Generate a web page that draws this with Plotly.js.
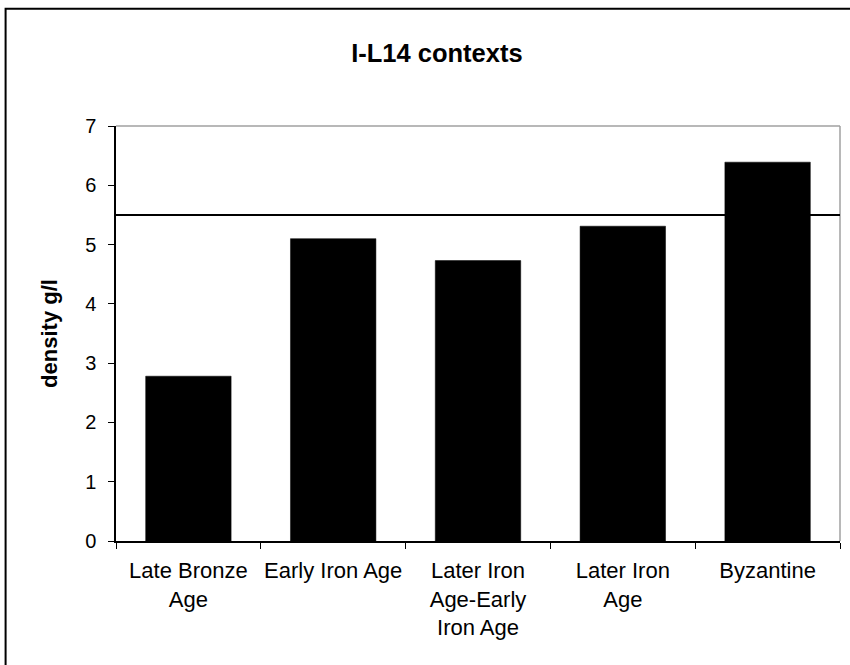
<!DOCTYPE html>
<html>
<head>
<meta charset="utf-8">
<script src="https://cdn.plot.ly/plotly-3.0.1.min.js"></script>
<style>
html,body{margin:0;padding:0;background:#fff;}
#chart{width:850px;height:665px;}
</style>
</head>
<body>
<div id="chart"></div>
<script>
const categories = ["Late Bronze<br>Age", "Early Iron Age", "Later Iron<br>Age-Early<br>Iron Age", "Later Iron<br>Age", "Byzantine"];
const densities = [2.78, 5.10, 4.73, 5.31, 6.39];
const referenceLine = [5.5];
const yTicks = [0, 1, 2, 3, 4, 5, 6, 7];

const trace = {
  type: 'bar',
  x: categories,
  y: densities,
  marker: {color: '#000000', line: {color: '#000000', width: 0.5}},
  hoverinfo: 'x+y'
};

const layout = {
  width: 850,
  height: 665,
  margin: {l: 116, r: 10, t: 126, b: 124, pad: 0},
  paper_bgcolor: '#ffffff',
  plot_bgcolor: '#ffffff',
  showlegend: false,
  bargap: 0.41,
  font: {family: 'Liberation Sans, Arial, sans-serif', color: '#000000'},
  title: {
    text: '<b>I-L14 contexts</b>',
    x: 0.514, xanchor: 'center',
    y: 0.92, yanchor: 'middle',
    font: {size: 25.5, family: 'Liberation Sans, Arial, sans-serif', color: '#000'}
  },
  xaxis: {
    type: 'category',
    tickson: 'boundaries',
    ticks: 'outside',
    ticklen: 6,
    tickwidth: 1,
    tickcolor: '#000',
    showline: true,
    linecolor: '#000',
    linewidth: 1.5,
    showgrid: false,
    zeroline: false,
    tickangle: 0,
    tickfont: {size: 22, color: '#000'},
    ticklabelstandoff: 9,
    automargin: false
  },
  yaxis: {
    range: [0, 7],
    tickvals: yTicks,
    ticktext: yTicks.map(String),
    ticks: 'outside',
    ticklen: 6,
    tickwidth: 1,
    tickcolor: '#000',
    showline: true,
    linecolor: '#000',
    linewidth: 1.5,
    showgrid: false,
    zeroline: false,
    tickfont: {size: 20, color: '#000'},
    ticklabelstandoff: 8,
    automargin: false,
    title: {
      text: '<b>density g/l</b>',
      font: {size: 22, color: '#000'},
      standoff: 21
    }
  },
  shapes: [
    {type: 'line', xref: 'paper', yref: 'paper', x0: 0, x1: 1, y0: 1, y1: 1,
     line: {color: '#a0a0a0', width: 1.5}},
    {type: 'line', xref: 'paper', yref: 'paper', x0: 1, x1: 1, y0: 0, y1: 1,
     line: {color: '#a0a0a0', width: 1.5}},
    {type: 'line', xref: 'paper', yref: 'y', x0: 0, x1: 1, y0: referenceLine[0], y1: referenceLine[0],
     line: {color: '#000000', width: 2}},
    {type: 'rect', xref: 'paper', yref: 'paper', x0: -0.1525, x1: 1.2, y0: -0.6, y1: 1.2827,
     line: {color: '#000000', width: 2}, fillcolor: 'rgba(0,0,0,0)'}
  ]
};

Plotly.newPlot('chart', [trace], layout, {displayModeBar: false});
</script>
</body>
</html>
